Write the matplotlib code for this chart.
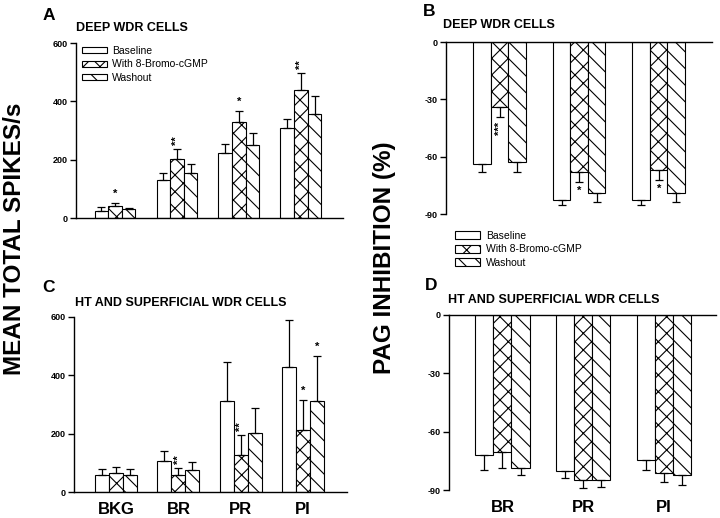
import numpy as np
import matplotlib
matplotlib.use("Agg")
import matplotlib.pyplot as plt
from matplotlib.patches import Patch

plt.rcParams['font.family'] = ['Liberation Sans', 'DejaVu Sans']
plt.rcParams['hatch.linewidth'] = 0.8

series = ["Baseline", "With 8-Bromo-cGMP", "Washout"]
hatches = ["", "xx", "\\\\"]

# Panel A: deep WDR cells, mean total spikes/s
cats_A = ["BKG", "BR", "PR", "PI"]
A_base = [25, 129, 224, 308]
A_base_sem = [12, 24, 30, 31]
A_cg = [41, 203, 328, 440]
A_cg_sem = [9, 33, 40, 58]
A_wash = [31, 153, 249, 356]
A_wash_sem = [4, 31, 43, 61]
A_stars = [(0, 1, "*"), (1, 1, "**"), (2, 1, "*"), (3, 1, "**")]

# Panel C: HT and superficial WDR cells
cats_C = ["BKG", "BR", "PR", "PI"]
C_base = [57, 106, 312, 429]
C_base_sem = [23, 33, 134, 162]
C_cg = [65, 59, 128, 211]
C_cg_sem = [21, 24, 66, 106]
C_wash = [59, 75, 202, 312]
C_wash_sem = [20, 28, 87, 153]
C_stars = [(1, 1, "**"), (2, 1, "**"), (3, 1, "*"), (3, 2, "*")]

# Panel B: deep WDR cells, PAG inhibition (%)
cats_B = ["BR", "PR", "PI"]
B_base = [-63.6, -82.9, -82.5]
B_base_sem = [4.5, 2.2, 2.6]
B_cg = [-33.9, -67.8, -66.9]
B_cg_sem = [5.5, 5.5, 5.4]
B_wash = [-63.0, -79.0, -79.0]
B_wash_sem = [5.1, 4.7, 4.7]
B_stars = [(0, 1, "***"), (1, 1, "*"), (2, 1, "*")]

# Panel D: HT and superficial WDR cells, PAG inhibition (%)
cats_D = ["BR", "PR", "PI"]
D_base = [-72.0, -80.2, -74.6]
D_base_sem = [7.5, 3.5, 5.1]
D_cg = [-70.6, -84.9, -81.3]
D_cg_sem = [7.9, 4.2, 4.8]
D_wash = [-78.5, -84.7, -82.3]
D_wash_sem = [3.8, 3.6, 5.1]
D_stars = []

yt_pos = [0, 200, 400, 600]
yt_neg = [0, -30, -60, -90]

fig = plt.figure(figsize=(7.2, 5.18), dpi=100)

def px_axes(l, r, t, b):
    W, H = 720, 518
    return fig.add_axes([l / W, 1 - b / H, (r - l) / W, (b - t) / H])

def draw(ax, cats, means, sems, stars, neg, w, xlim):
    x = np.arange(len(cats))
    offs = [-w, 0, w]
    for i in range(3):
        m = np.array(means[i]); s = np.array(sems[i])
        ax.bar(x + offs[i], m, width=w, color="white", edgecolor="black",
               linewidth=0.8, hatch=hatches[i], label=series[i], zorder=2)
        if neg:
            yerr = [s, np.zeros_like(s)]
        else:
            yerr = [np.zeros_like(s), s]
        ax.errorbar(x + offs[i], m, yerr=yerr, fmt="none", ecolor="black",
                    elinewidth=0.9, capsize=3, capthick=0.9, zorder=3)
    for g, si, txt in stars:
        m = means[si][g]; s = sems[si][g]
        if neg:
            yv = m - s
            ax.annotate(txt, xy=(g + offs[si], yv), xytext=(0, -3),
                        textcoords="offset points", ha="center", va="top",
                        rotation=90 if len(txt) > 1 else 0,
                        fontsize=8, fontweight="bold")
        else:
            yv = m + s
            ax.annotate(txt, xy=(g + offs[si], yv), xytext=(0, 3),
                        textcoords="offset points", ha="center", va="bottom",
                        rotation=90 if len(txt) > 1 else 0,
                        fontsize=8, fontweight="bold")
    ax.set_xlim(*xlim)
    for sp in ax.spines.values():
        sp.set_linewidth(1.0)
    ax.spines["right"].set_visible(False)
    if neg:
        ax.spines["bottom"].set_visible(False)
        ax.set_ylim(-90, 0)
        ax.set_yticks(yt_neg)
        ax.set_yticklabels([str(v) for v in yt_neg])
    else:
        ax.spines["top"].set_visible(False)
        ax.set_ylim(0, 600)
        ax.set_yticks(yt_pos)
        ax.set_yticklabels([str(v) for v in yt_pos])
    ax.tick_params(axis="y", direction="out", length=4, width=1, labelsize=6.5, pad=2)
    for lab in ax.get_yticklabels():
        lab.set_fontweight("bold")
    ax.tick_params(axis="x", length=0)

axA = px_axes(76, 343, 43, 218)
draw(axA, cats_A, [A_base, A_cg, A_wash], [A_base_sem, A_cg_sem, A_wash_sem],
     A_stars, False, 0.22, (-0.63, 3.68))
axA.set_xticks([])

axC = px_axes(74, 347, 317, 492)
draw(axC, cats_C, [C_base, C_cg, C_wash], [C_base_sem, C_cg_sem, C_wash_sem],
     C_stars, False, 0.225, (-0.68, 3.71))
axC.set_xticks(np.arange(len(cats_C)))
axC.set_xticklabels(cats_C, fontsize=12, fontweight="bold")
axC.tick_params(axis="x", pad=7)

axB = px_axes(446, 712, 42, 214)
draw(axB, cats_B, [B_base, B_cg, B_wash], [B_base_sem, B_cg_sem, B_wash_sem],
     B_stars, True, 0.22, (-0.675, 2.67))
axB.set_xticks([])

axD = px_axes(449, 716, 315, 490)
draw(axD, cats_D, [D_base, D_cg, D_wash], [D_base_sem, D_cg_sem, D_wash_sem],
     D_stars, True, 0.224, (-0.66, 2.64))
axD.set_xticks(np.arange(len(cats_D)))
axD.set_xticklabels(cats_D, fontsize=12, fontweight="bold")
axD.tick_params(axis="x", pad=7)

handles = [Patch(facecolor="white", edgecolor="black", linewidth=0.8, hatch=h) for h in hatches]
fig.legend(handles, series, loc="upper left", bbox_to_anchor=(82 / 720, 1 - 46 / 518),
           frameon=False, fontsize=7.5, handlelength=2.4, handleheight=0.55,
           handletextpad=0.5, labelspacing=0.32, borderpad=0, borderaxespad=0)
fig.legend(handles, series, loc="upper left", bbox_to_anchor=(455 / 720, 1 - 231 / 518),
           frameon=False, fontsize=7.5, handlelength=2.4, handleheight=0.8,
           handletextpad=0.6, labelspacing=0.32, borderpad=0, borderaxespad=0)

W, H = 720, 518
def ftxt(x, y, s, **kw):
    fig.text(x / W, 1 - y / H, s, **kw)

ftxt(43, 15, "A", fontsize=12.5, fontweight="bold", ha="left", va="center")
ftxt(423, 12, "B", fontsize=12.5, fontweight="bold", ha="left", va="center")
ftxt(42, 287, "C", fontsize=12.5, fontweight="bold", ha="left", va="center")
ftxt(425, 286, "D", fontsize=12.5, fontweight="bold", ha="left", va="center")

ftxt(76, 28, "DEEP WDR CELLS", fontsize=9, fontweight="bold", ha="left", va="center")
ftxt(443, 25, "DEEP WDR CELLS", fontsize=9, fontweight="bold", ha="left", va="center")
ftxt(75, 303, "HT AND SUPERFICIAL WDR CELLS", fontsize=9, fontweight="bold", ha="left", va="center")
ftxt(448, 300, "HT AND SUPERFICIAL WDR CELLS", fontsize=9, fontweight="bold", ha="left", va="center")

ftxt(15, 239, "MEAN TOTAL SPIKES/s", fontsize=17.5, fontweight="bold", rotation=90,
     ha="center", va="center")
ftxt(384, 258, "PAG INHIBITION (%)", fontsize=17.5, fontweight="bold", rotation=90,
     ha="center", va="center")

fig.savefig("out.png", dpi=100)
